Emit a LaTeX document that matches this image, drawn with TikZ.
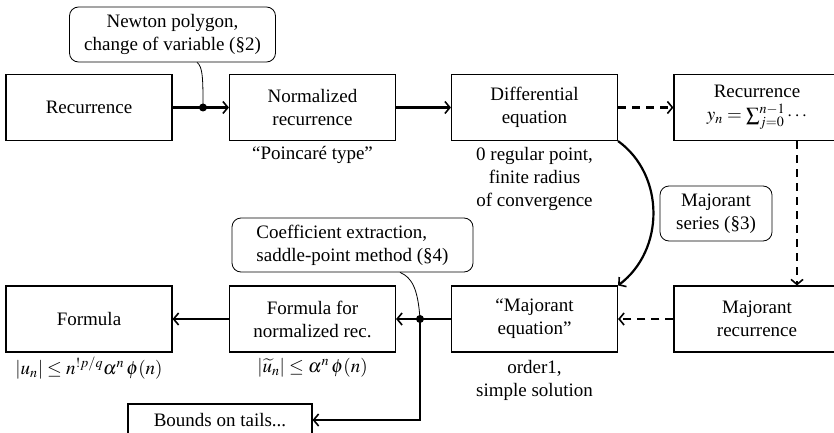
\documentclass[tikz,border=0pt]{standalone}
\usepackage{mathptmx}
\usepackage{fontspec}
\setmainfont{Liberation Serif}
\usetikzlibrary{arrows.meta}
\begin{document}
\begin{tikzpicture}[x=1pt,y=-1pt,
  font=\fontsize{19}{23}\selectfont,
  box/.style={draw,line width=1.1pt,minimum width=166pt,minimum height=66pt,align=center,inner sep=2pt},
  callout/.style={draw,line width=0.8pt,rounded corners=9pt,align=center,inner sep=2pt},
  lbl/.style={align=center,inner sep=0pt},
  arr/.style={line width=2.2pt,-{Straight Barb[length=5pt,width=12pt,line width=1.6pt]}},
  darr/.style={arr,dash pattern=on 8pt off 6pt},
  conn/.style={line width=0.8pt},
  dot/.style={circle,fill,inner sep=0pt,minimum size=8pt}]
\useasboundingbox (0,0) rectangle (834,433);
\node[box] (rec) at (89,107.5) {Recurrence};
\node[box] (norm) at (312.5,107.5) {Normalized\\recurrence};
\node[box] (diff) at (534.5,107.5) {Differential\\equation};
\node[box] (recy) at (757,107.5) {Recurrence\\$y_n=\sum_{j=0}^{n-1}\cdots$};
\node[box] (form) at (89,319) {Formula};
\node[box] (fnorm) at (312.5,319) {Formula for\\normalized rec.};
\node[box] (meq) at (534.5,319) {``Majorant\\equation''};
\node[box] (mrec) at (757,319) {Majorant\\recurrence};
\node[draw,line width=1.1pt,minimum width=184pt,minimum height=32pt,inner sep=2pt] (tails) at (220,420) {Bounds on tails...};
\node[callout,minimum width=206pt,minimum height=55pt] (newton) at (172.5,34.5) {Newton polygon,\\change of variable (\S2)};
\node[callout,minimum width=112pt,minimum height=55pt] (maj) at (716,213.5) {Majorant\\series (\S3)};
\node[callout,minimum width=241pt,minimum height=54pt,align=left] (coef) at (352.5,245) {Coefficient extraction,\\saddle-point method (\S4)};
\node[lbl] (poinc) at (312.5,155) {``Poincaré type''};
\node[lbl,anchor=north] (reg) at (534.5,147) {0 regular point,\\finite radius\\of convergence};
\node[lbl] (fl) at (89,368) {$|u_n|\le n^{!p/q}\alpha^n\,\phi(n)$};
\node[lbl] (fnl) at (312.5,368) {$|\widetilde{u}_n|\le\alpha^n\,\phi(n)$};
\node[lbl,anchor=north] (ml) at (534.5,360) {order1,\\simple solution};
\coordinate (d1) at (203,107.5);
\coordinate (d2) at (420,319);
\coordinate (c3) at (420,420);
\draw[arr] (rec) -- (norm);
\draw[arr] (norm) -- (diff);
\draw[darr] (diff) -- (recy);
\draw[darr] ([xshift=40pt]recy.south) -- ([xshift=40pt]mrec.north);
\draw[darr] (mrec) -- (meq);
\draw[arr] (diff.south east) .. controls (665,175) and (665,250) .. (meq.north east);
\draw[arr] (meq) -- (fnorm);
\draw[arr] (fnorm) -- (form);
\draw[arr] (d2) -- (c3) -- (tails);
\draw[conn] ([xshift=24.5pt]newton.south) .. controls +(6,4) and +(0,-27) .. (d1);
\draw[conn] ([xshift=47.5pt]coef.south) .. controls +(12,5) and +(-2,-30) .. (d2);
\node[dot] at (d1) {};
\node[dot] at (d2) {};
\end{tikzpicture}
\end{document}
